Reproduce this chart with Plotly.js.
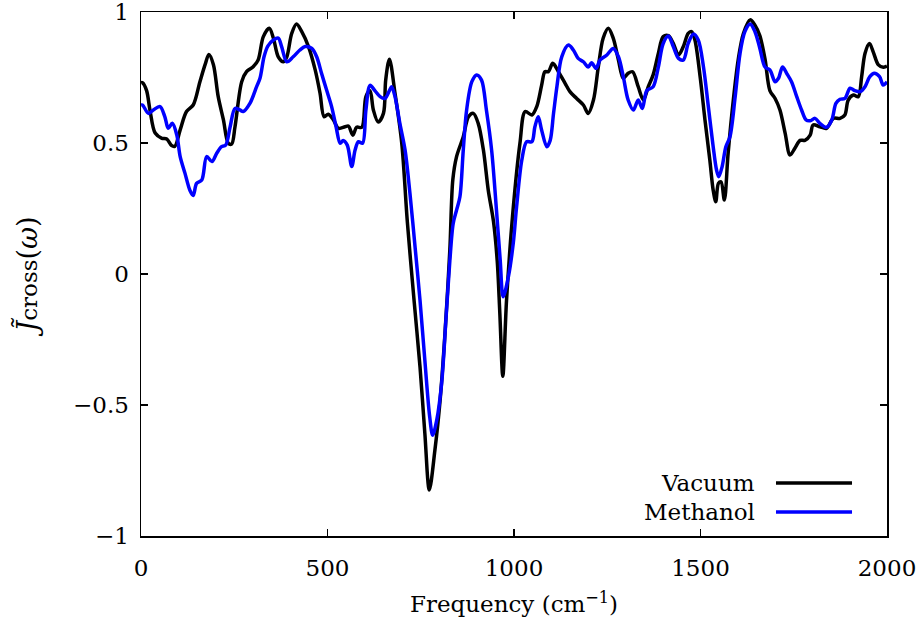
<!DOCTYPE html>
<html>
<head>
<meta charset="utf-8">
<script src="https://cdn.plot.ly/plotly-3.0.1.min.js"></script>
<style>html,body{margin:0;padding:0;background:#fff;}#chart{width:917px;height:627px;}</style>
</head>
<body>
<div id="chart"></div>
<script>
const seriesNames = ["Vacuum", "Methanol"];
const seriesColors = ["#000000", "#0000ff"];

const vacuumX = [0,4,15,24,38,56,69,82,91,105,122,140,158,172,182,194,207,221,234,243,252,270,283,300,314,328,344,355,368,382,391,404,417,431,449,467,480,491,502,516,529,547,556,568,578,592,603,614,623,636,650,656,666,681,699,714,732,748,761,773,788,802,815,828,836,846,864,878,891,904,918,931,945,955,962,970,980,996,1016,1030,1048,1061,1074,1083,1092,1104,1119,1137,1150,1168,1186,1199,1213,1226,1239,1253,1266,1280,1293,1306,1318,1333,1347,1360,1373,1387,1400,1414,1427,1441,1454,1467,1476,1485,1499,1512,1525,1534,1541,1548,1555,1564,1574,1588,1601,1615,1633,1646,1659,1673,1686,1700,1713,1727,1740,1753,1767,1780,1794,1802,1820,1838,1856,1874,1887,1896,1910,1923,1932,1941,1953,1963,1977,1990,2000];
const vacuumY = [0.73,0.73,0.70,0.626,0.538,0.518,0.515,0.49,0.488,0.55,0.62,0.645,0.734,0.80,0.838,0.80,0.677,0.588,0.499,0.496,0.562,0.734,0.772,0.79,0.817,0.906,0.938,0.90,0.829,0.81,0.829,0.918,0.954,0.925,0.868,0.779,0.69,0.60,0.61,0.588,0.556,0.562,0.565,0.53,0.56,0.56,0.677,0.70,0.626,0.58,0.613,0.74,0.82,0.69,0.50,0.2,-0.1,-0.354,-0.608,-0.824,-0.672,-0.48,-0.226,0.092,0.36,0.448,0.524,0.60,0.613,0.575,0.473,0.32,0.2,0.05,-0.15,-0.39,-0.1,0.22,0.5,0.62,0.607,0.639,0.72,0.772,0.772,0.804,0.772,0.728,0.696,0.67,0.645,0.613,0.664,0.79,0.90,0.938,0.90,0.817,0.747,0.766,0.772,0.715,0.664,0.715,0.76,0.842,0.906,0.91,0.88,0.836,0.868,0.918,0.925,0.893,0.753,0.588,0.435,0.32,0.276,0.346,0.352,0.282,0.46,0.664,0.817,0.918,0.97,0.95,0.91,0.82,0.70,0.67,0.626,0.537,0.454,0.48,0.51,0.51,0.53,0.569,0.562,0.556,0.594,0.594,0.607,0.664,0.683,0.677,0.753,0.842,0.88,0.848,0.798,0.789,0.794];

const methanolX = [0,4,20,33,51,64,73,84,96,105,118,131,140,149,163,176,190,203,216,227,239,252,265,274,292,310,319,330,340,355,368,377,391,408,426,440,458,471,484,498,511,523,534,542,553,565,574,583,594,603,614,627,641,654,666,672,681,694,708,721,735,748,761,774,782,793,806,818,828,837,846,855,864,873,887,900,913,926,940,953,963,971,985,998,1007,1021,1034,1048,1056,1065,1074,1088,1097,1106,1115,1128,1146,1159,1172,1186,1199,1208,1220,1231,1249,1266,1280,1293,1306,1320,1333,1344,1356,1373,1387,1400,1414,1427,1441,1454,1467,1481,1494,1508,1521,1534,1543,1549,1558,1568,1579,1593,1606,1619,1633,1646,1659,1673,1686,1700,1709,1720,1731,1744,1758,1771,1783,1794,1807,1820,1838,1852,1863,1874,1887,1901,1914,1928,1941,1954,1966,1980,1990,2000];
const methanolY = [0.645,0.645,0.613,0.626,0.639,0.60,0.556,0.575,0.53,0.448,0.384,0.32,0.30,0.346,0.359,0.448,0.429,0.461,0.486,0.492,0.562,0.632,0.626,0.62,0.651,0.715,0.747,0.83,0.87,0.893,0.90,0.868,0.81,0.829,0.855,0.868,0.861,0.829,0.766,0.70,0.639,0.562,0.499,0.51,0.492,0.41,0.473,0.505,0.499,0.626,0.72,0.70,0.677,0.67,0.70,0.715,0.677,0.575,0.473,0.308,0.10,-0.10,-0.33,-0.545,-0.615,-0.557,-0.417,-0.163,0.05,0.193,0.244,0.295,0.473,0.626,0.734,0.76,0.74,0.626,0.473,0.244,0.053,-0.087,-0.01,0.117,0.257,0.435,0.505,0.505,0.562,0.60,0.55,0.486,0.51,0.613,0.715,0.829,0.874,0.855,0.823,0.81,0.79,0.806,0.785,0.817,0.836,0.861,0.829,0.753,0.664,0.626,0.664,0.632,0.70,0.715,0.79,0.88,0.908,0.868,0.823,0.817,0.88,0.916,0.893,0.79,0.639,0.486,0.397,0.371,0.41,0.486,0.524,0.677,0.842,0.925,0.954,0.925,0.862,0.79,0.779,0.734,0.747,0.79,0.766,0.734,0.677,0.626,0.588,0.585,0.594,0.575,0.56,0.588,0.651,0.667,0.67,0.709,0.70,0.696,0.715,0.753,0.766,0.753,0.721,0.734];

const xTicks = [0, 500, 1000, 1500, 2000];
const yTicks = [-1, -0.5, 0, 0.5, 1];
const yTickText = ["−1", "−0.5", "0", "0.5", "1"];

const FONT = "DejaVu Serif";
const FS = 23;

const traces = [
  {x: vacuumX, y: vacuumY, name: seriesNames[0], type: "scatter", mode: "lines",
   line: {color: seriesColors[0], width: 3.5, shape: "spline", smoothing: 0.9}, showlegend: false},
  {x: methanolX, y: methanolY, name: seriesNames[1], type: "scatter", mode: "lines",
   line: {color: seriesColors[1], width: 3.5, shape: "spline", smoothing: 0.9}, showlegend: false}
];

const axisCommon = {
  showgrid: false, zeroline: false, showline: true, linecolor: "#000", linewidth: 1.5,
  mirror: "ticks", ticks: "inside", ticklen: 7, tickwidth: 1.2, tickcolor: "#000",
  ticklabeloverflow: "allow",
  tickfont: {family: FONT, size: FS, color: "#000"}
};

const layout = {
  width: 917, height: 627,
  margin: {l: 141, r: 30, t: 12, b: 91},
  paper_bgcolor: "#fff", plot_bgcolor: "#fff",
  font: {family: FONT, size: FS, color: "#000"},
  xaxis: Object.assign({}, axisCommon, {
    range: [0, 2000], tickvals: xTicks, ticktext: xTicks.map(String), ticklabelstandoff: 11,
    title: {text: "Frequency (cm<sup>−1</sup>)", font: {family: FONT, size: FS, color: "#000"}, standoff: 16}
  }),
  yaxis: Object.assign({}, axisCommon, {
    range: [-1, 1], tickvals: yTicks, ticktext: yTickText, ticklabelstandoff: 6,
    title: {text: "<i>J̃</i><span style='font-size:23px'>cross</span>(<i>ω</i>)", font: {family: FONT, size: 27, color: "#000"}, standoff: 27}
  }),
  showlegend: false,
  annotations: [
    {xref: "paper", yref: "paper", x: 0.8257, y: 0.1011, xanchor: "right", yanchor: "middle",
     text: seriesNames[0], showarrow: false, font: {family: FONT, size: FS, color: "#000"}},
    {xref: "paper", yref: "paper", x: 0.8257, y: 0.0458, xanchor: "right", yanchor: "middle",
     text: seriesNames[1], showarrow: false, font: {family: FONT, size: FS, color: "#000"}}
  ],
  shapes: [
    {type: "line", xref: "paper", yref: "paper", x0: 0.8512, x1: 0.9531, y0: 0.1011, y1: 0.1011,
     line: {color: seriesColors[0], width: 3.5}},
    {type: "line", xref: "paper", yref: "paper", x0: 0.8512, x1: 0.9531, y0: 0.0458, y1: 0.0458,
     line: {color: seriesColors[1], width: 3.5}}
  ]
};

Plotly.newPlot("chart", traces, layout, {displayModeBar: false, staticPlot: true});
</script>
</body>
</html>
